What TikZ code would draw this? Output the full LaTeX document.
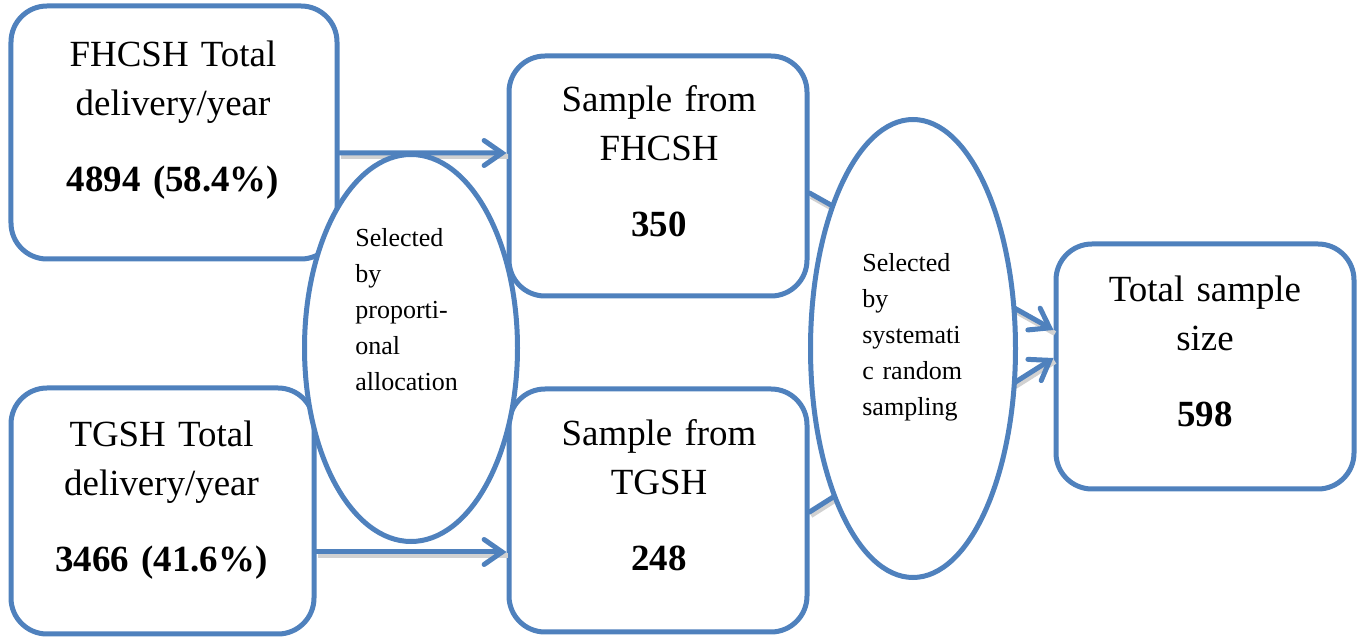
\documentclass[tikz,border=0pt]{standalone}
\usepackage{fontspec}
\setmainfont{Liberation Serif}
\usetikzlibrary{shapes.geometric,arrows.meta}
\definecolor{ofblue}{HTML}{4F81BD}
\tikzset{
  box/.style={draw=ofblue, line width=1mm, rounded corners=0.72cm, fill=white, inner sep=0pt},
  oval/.style={ellipse, draw=ofblue, line width=1mm, fill=white, inner sep=0pt},
  conn/.style={draw=ofblue, line width=1mm, line cap=round,
    preaction={draw=black!18, line width=1mm, -, transform canvas={shift={(0.03cm,-0.07cm)}}},
    -{Straight Barb[length=3.6mm, width=5mm, line cap=round]}},
  boxtxt/.style={anchor=base, inner sep=0pt, text width=5.9cm, align=center, font=\fontsize{21}{27.8}\selectfont},
  ovaltxt/.style={anchor=base west, inner sep=0pt, text width=2.4cm, align=left, font=\fontsize{14.8}{20.4}\selectfont},
}
\begin{document}
\begin{tikzpicture}
\useasboundingbox (0,0) rectangle (27.24,-12.74);
% boxes
\node[box, minimum width=6.52cm, minimum height=5.06cm] (b1) at (3.48,-2.65) {};
\node[box, minimum width=6.06cm, minimum height=4.92cm] (b5) at (3.25,-10.22) {};
\node[box, minimum width=5.96cm, minimum height=4.80cm] (b2) at (13.16,-3.52) {};
\node[box, minimum width=5.96cm, minimum height=4.86cm] (b3) at (13.16,-10.21) {};
\node[box, minimum width=5.96cm, minimum height=4.90cm] (b4) at (24.10,-7.33) {};
% connectors
\draw[conn] ([yshift=-0.41cm]b1.east) -- ([yshift=0.46cm]b2.west);
\draw[conn] ([yshift=-0.82cm]b5.east) -- ([yshift=-0.83cm]b3.west);
\draw[conn] ([yshift=-0.34cm]b2.east) -- ([yshift=0.73cm]b4.west);
\draw[conn] ([yshift=-0.03cm]b3.east) -- ([yshift=0.17cm]b4.west);
% ellipses
\node[oval, minimum width=4.26cm, minimum height=7.74cm] (e1) at (8.22,-6.96) {};
\node[oval, minimum width=4.10cm, minimum height=9.16cm] (e2) at (18.26,-6.97) {};
% texts
\node[boxtxt] (t1) at (3.46,-1.34) {FHCSH Total\\delivery/year\\[15.3pt]\textbf{4894 (58.4\%)}};
\node[boxtxt] (t5) at (3.23,-8.94) {TGSH Total\\delivery/year\\[15.3pt]\textbf{3466 (41.6\%)}};
\node[boxtxt] (t2) at (13.18,-2.24) {Sample from\\FHCSH\\[15.3pt]\textbf{350}};
\node[boxtxt] (t3) at (13.18,-8.92) {Sample from\\TGSH\\[15.3pt]\textbf{248}};
\node[boxtxt] (t4) at (24.10,-6.04) {Total sample\\size\\[15.3pt]\textbf{598}};
\node[ovaltxt] (s1) at (7.10,-4.94) {Selected\\by\\proporti-\\onal\\allocation};
\node[ovaltxt] (s2) at (17.24,-5.44) {Selected\\by\\systemati\\c random\\sampling};
\end{tikzpicture}
\end{document}
